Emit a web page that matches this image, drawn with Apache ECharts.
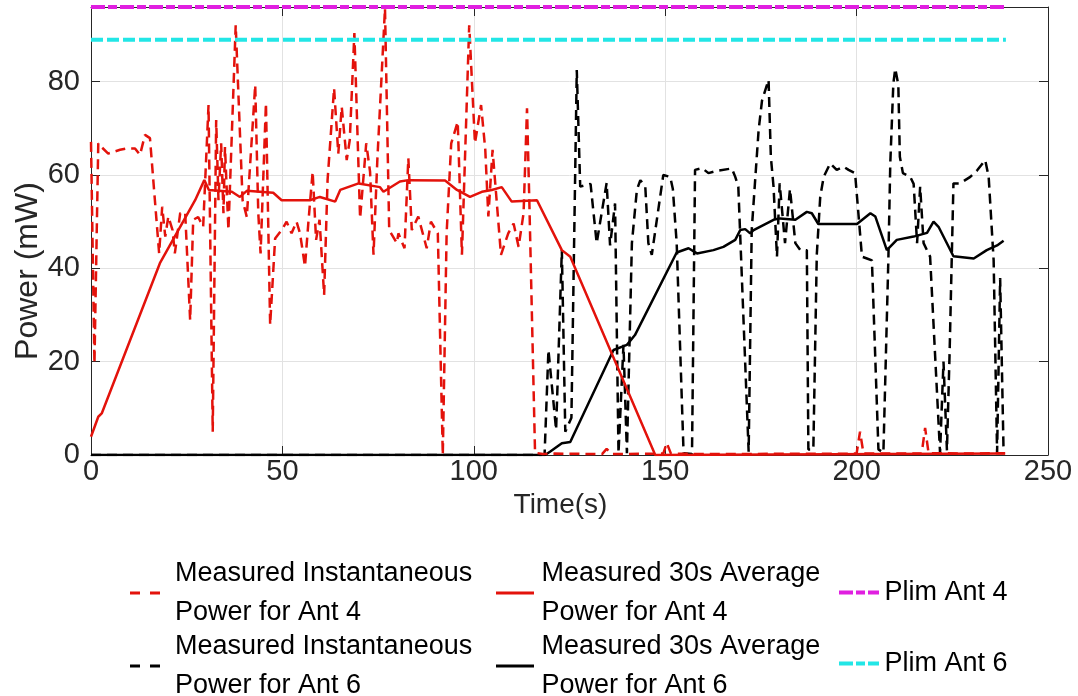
<!DOCTYPE html>
<html>
<head>
<meta charset="utf-8">
<script src="https://cdn.jsdelivr.net/npm/echarts@6/dist/echarts.min.js"></script>
<style>
html,body{margin:0;padding:0;background:#fff;}
#chart{width:1078px;height:696px;}
</style>
</head>
<body>
<div id="chart"></div>
<script>
// ---- Data (time in s, power in mW) ----
var xTicks = [0, 50, 100, 150, 200, 250];
var yTicks = [0, 20, 40, 60, 80];

var ant4Instantaneous = [[0,67.1],[0.9,19.6],[1.9,66.8],[2.6,66.1],[4.5,64.6],[7.6,65.4],[9.3,65.7],[11.5,65.7],[12.8,64.3],[14.1,68.6],[15.4,67.9],[17.8,43.2],[18.6,53.2],[19.4,46.8],[20.2,51.1],[21.3,48.2],[21.9,43.2],[23.3,51.8],[24.6,52],[25.9,28.9],[26.7,50.4],[28.0,51],[29.3,48.9],[30.7,75],[31.8,5],[32.7,71.8],[33.3,54.6],[34,66.8],[34.6,51.8],[35.0,66],[35.9,48.2],[37.8,92.1],[39.6,54.6],[40.7,51],[42.9,79.3],[43.7,51.8],[44.3,43.2],[45.7,75.4],[46.8,27.9],[48.1,46.4],[49.8,48.2],[51.1,50],[52.4,47.5],[53.7,50],[54.6,47.5],[55.9,40.4],[56.8,50],[57.9,60.7],[58.8,46.1],[59.7,50.4],[60.9,34.3],[61.8,58.9],[63.5,78.6],[64.6,64.6],[65.5,74.6],[66.8,63.2],[67.6,67.5],[68.8,90.4],[70.3,50.7],[71.9,66.8],[72.9,60.7],[73.8,42.9],[74.8,63.2],[76.8,95.7],[77.9,48.2],[79.9,45.4],[80.3,47.5],[81.9,44.3],[82.9,63.6],[83.8,48.2],[85.5,51.1],[87.7,44.3],[88.8,50],[90.6,47.5],[91.9,0],[92.9,47.5],[94.1,66.8],[95.8,71.4],[96.9,42.9],[98.8,92.1],[100.3,66.8],[101.9,75],[103,65.4],[103.8,51.1],[104.9,65.4],[107.1,42.9],[109,47.5],[110.4,49.6],[111.7,44.6],[113,51.8],[113.9,74.3],[114.5,54.6],[116,0.5],[118,0.2],[121,0.3],[133.5,0.2],[134.7,1.3],[136,0.2],[149.5,0.3],[150.4,2.6],[151.5,0.3],[160,0.2],[200,0.3],[200.9,5],[201.8,0.3],[217,0.3],[217.9,5.8],[218.8,0.4],[230,0.3],[238.8,0.4]];

var ant4Average = [[0,3.9],[1.9,8.2],[2.8,8.9],[18,41.1],[27.2,54.6],[29.6,58.9],[30.8,56.8],[36.8,56.4],[38.9,55.3],[40.7,56.6],[47.6,56.2],[49.8,54.6],[57.2,54.6],[59.8,55.3],[63.8,54.3],[65.1,56.8],[69.9,58.2],[75.5,57.4],[76.4,56.4],[80.7,58.6],[82.9,58.9],[92.5,58.8],[95.6,56.8],[99,55.3],[102.1,56.4],[104.7,56.8],[107.3,57.4],[109.9,54.3],[116.5,54.6],[123,43.9],[125.2,42.5],[147.4,0],[238.8,0.3]];

var ant6Instantaneous = [[0,0],[117.5,0],[118.5,0.3],[119.5,22.5],[121.5,5.4],[123,43.9],[123.9,5],[125.5,8],[126.9,82.5],[127.8,57.5],[130.5,58.1],[132.1,45.4],[134.7,58.3],[135.6,44.9],[136.9,53.9],[137.8,0.4],[139.1,23.6],[140,0.4],[141.3,45.4],[142.6,56.8],[143.5,58.9],[144.8,57.5],[145.6,45.4],[146.5,42.9],[149.5,60],[151.3,59.6],[152,57],[153,45.4],[154.8,0.4],[157,0.2],[157.8,61.1],[159.6,61.5],[161.3,60.4],[163.5,60.9],[167.4,61.4],[168.3,59.6],[169.1,57.5],[171.8,0.7],[172.6,48.2],[174.4,69.6],[175.3,76],[177,80.4],[177.6,63.9],[178.3,57.5],[179.2,42.5],[179.9,58.2],[181.3,45.4],[182.6,57],[184,45.4],[185.3,43.9],[187,43.9],[187.4,1.2],[188.7,1.2],[189.6,42.9],[190.5,55.3],[191.4,59.6],[193.1,62.5],[194.8,61.1],[196.6,61.8],[197.9,61.1],[199.6,60.4],[201.4,42.5],[202.7,42.1],[204,41.7],[205.7,1.2],[207,0.5],[208.3,42],[208.8,62.5],[209.6,79.6],[210.1,82.8],[210.9,79.3],[211.3,63.9],[212.1,60.4],[214,59.6],[214.9,58.1],[215.8,45.4],[216.6,57.5],[217.5,45.4],[219.2,42.5],[221.8,0.5],[222.7,20],[223.6,1],[224.3,22],[225.3,58.2],[227,58.2],[229.7,59.6],[231.5,61],[233.6,63.2],[234.5,59.6],[235.8,41.7],[236.7,0.5],[237.5,37.9],[238.4,0.4]];

var ant6Average = [[0,0],[118.6,0],[119.9,0.7],[123,2.5],[125.2,2.8],[136.5,22.5],[140,23.6],[142.1,25.7],[153,43.4],[156.1,44.3],[158.3,43.2],[162.6,43.9],[165.2,44.6],[168.3,46.1],[169.6,48.2],[170.9,48.4],[172.2,47.5],[173.1,48.2],[178.3,50.4],[180,50.7],[184,50.4],[187,52.1],[188.3,51.8],[190,49.5],[200.1,49.5],[203.6,51.8],[204.9,51.1],[207.9,43.9],[210.5,46.1],[214.9,46.8],[218.4,47.6],[220.1,50],[221.4,48.9],[225.3,42.6],[230.6,42.1],[234,43.9],[236.7,44.9],[238.4,45.9]];

var plimAnt4 = 96;
var plimAnt6 = 89;
var plimSpan = [0, 239];

var names = {
  inst4: 'Measured Instantaneous\nPower for Ant 4',
  avg4: 'Measured 30s Average\nPower for Ant 4',
  inst6: 'Measured Instantaneous\nPower for Ant 6',
  avg6: 'Measured 30s Average\nPower for Ant 6',
  plim4: 'Plim Ant 4',
  plim6: 'Plim Ant 6'
};

// ---- Styles ----
var FONT = '"Liberation Sans", Arial, Helvetica, sans-serif';
var RED = '#e3120b', BLACK = '#000000', MAG = '#e01fe0', CYAN = '#22e6e6';
var AXIS = '#262626', GRID = '#e2e2e2';

function plimData(v){ return plimSpan.map(function(t){ return [t, v]; }); }

function lineSeries(name, data, color, type, width, z){
  return {
    name: name, type: 'line', data: data, showSymbol: false, symbol: 'none',
    color: color, z: z, animation: false,
    lineStyle: {color: color, width: width, type: type}
  };
}

var ICON_DASH = 'path://M0,0h10v3h-10z M20,0h10v3h-10z';
var ICON_SOLID = 'path://M0,0h38v3h-38z';
var ICON_PLIM = 'path://M0,0h14v4h-14z M17,0h9v4h-9z M29,0h11v4h-11z';

function legend(name, left, top, icon, w, h, padLeft){
  return {
    data: [{name: name, icon: icon}], left: left, top: top, orient: 'vertical',
    padding: 0, itemWidth: w, itemHeight: h, selectedMode: false,
    itemStyle: {borderWidth: 0},
    textStyle: {fontSize: 27, lineHeight: 39, color: '#000', fontFamily: FONT, padding: [0,0,0,padLeft]}
  };
}

var chart = echarts.init(document.getElementById('chart'), null, {renderer: 'canvas'});

var baseAxisX = {
  type: 'value', min: xTicks[0], max: xTicks[xTicks.length-1], interval: xTicks[1]-xTicks[0]
};
var baseAxisY = {
  type: 'value', min: yTicks[0], max: plimAnt4, interval: yTicks[1]-yTicks[0]
};

var option = {
  backgroundColor: '#ffffff',
  animation: false,
  grid: {left: 91, right: 30, top: 7, bottom: 241, containLabel: false, outerBoundsMode: 'none'},
  xAxis: [
    Object.assign({}, baseAxisX, {
      position: 'bottom',
      axisLine: {show: true, lineStyle: {color: AXIS, width: 1}},
      axisTick: {show: true, inside: true, length: 9, lineStyle: {color: AXIS}},
      axisLabel: {fontSize: 29, color: AXIS, fontFamily: FONT, margin: 2},
      splitLine: {show: true, lineStyle: {color: GRID, width: 1}},
      name: 'Time(s)', nameLocation: 'middle', nameGap: 22,
      nameTextStyle: {fontSize: 28, color: AXIS, fontFamily: FONT, padding: [0, 18, 0, 0]}
    }),
    Object.assign({}, baseAxisX, {
      position: 'top',
      axisLine: {show: true, onZero: false, lineStyle: {color: AXIS, width: 1}},
      axisTick: {show: true, inside: true, length: 9, lineStyle: {color: AXIS}},
      axisLabel: {show: false}, splitLine: {show: false}
    })
  ],
  yAxis: [
    Object.assign({}, baseAxisY, {
      position: 'left',
      axisLine: {show: true, lineStyle: {color: AXIS, width: 1}},
      axisTick: {show: true, inside: true, length: 9, lineStyle: {color: AXIS}},
      axisLabel: {fontSize: 29, color: AXIS, fontFamily: FONT, margin: 11, showMaxLabel: false},
      splitLine: {show: true, lineStyle: {color: GRID, width: 1}},
      name: 'Power (mW)', nameLocation: 'middle', nameGap: 47, nameRotate: 90, nameMoveOverlap: false,
      nameTextStyle: {fontSize: 32, color: AXIS, fontFamily: FONT, padding: [0, 80, 0, 0]}
    }),
    Object.assign({}, baseAxisY, {
      position: 'right',
      axisLine: {show: true, onZero: false, lineStyle: {color: AXIS, width: 1}},
      axisTick: {show: true, inside: true, length: 9, lineStyle: {color: AXIS}},
      axisLabel: {show: false}, splitLine: {show: false}
    })
  ],
  legend: [
    legend(names.inst4, 130, 554, ICON_DASH, 32, 3, 9),
    legend(names.avg4, 496, 554, ICON_SOLID, 39, 3, 2),
    legend(names.plim4, 839, 573, ICON_PLIM, 41, 4, 0),
    legend(names.inst6, 130, 627, ICON_DASH, 32, 3, 9),
    legend(names.avg6, 496, 627, ICON_SOLID, 39, 3, 2),
    legend(names.plim6, 839, 644, ICON_PLIM, 41, 4, 0)
  ],
  series: [
    lineSeries(names.inst6, ant6Instantaneous, BLACK, [10, 6], 2.5, 2),
    lineSeries(names.avg6, ant6Average, BLACK, 'solid', 2.5, 3),
    lineSeries(names.inst4, ant4Instantaneous, RED, [10, 6], 2.5, 4),
    lineSeries(names.avg4, ant4Average, RED, 'solid', 2.5, 5),
    lineSeries(names.plim4, plimData(plimAnt4), MAG, [14, 3, 9, 3], 4, 6),
    lineSeries(names.plim6, plimData(plimAnt6), CYAN, [12, 4], 4, 6)
  ]
};
option.series[4].clip = false;
chart.setOption(option);
</script>
</body>
</html>
